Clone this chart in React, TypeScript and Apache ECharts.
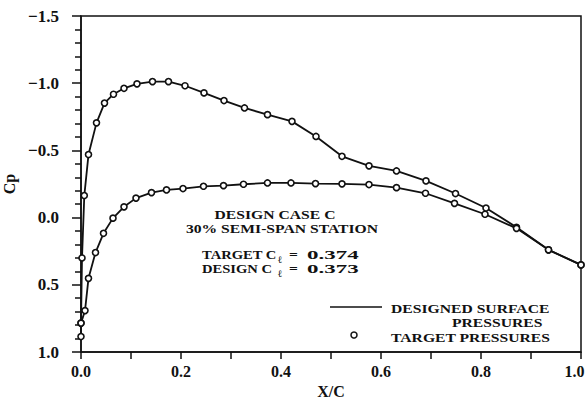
import React, { useEffect, useRef } from "react";
import * as echarts from "echarts";

const upperX = [0.0, 0.0, 0.002, 0.0066, 0.015, 0.031, 0.047, 0.065, 0.086, 0.112, 0.143, 0.175, 0.208, 0.246, 0.286, 0.327, 0.373, 0.422, 0.47, 0.522, 0.576, 0.631, 0.69, 0.749, 0.81, 0.871, 0.935, 1.0];
const upperCp = [0.885, 0.785, 0.3, -0.164, -0.469, -0.705, -0.852, -0.918, -0.962, -0.995, -1.012, -1.012, -0.981, -0.928, -0.871, -0.816, -0.766, -0.716, -0.604, -0.456, -0.385, -0.347, -0.273, -0.179, -0.071, 0.072, 0.24, 0.352];
const lowerX = [0.0, 0.008, 0.015, 0.029, 0.045, 0.064, 0.086, 0.11, 0.141, 0.171, 0.204, 0.245, 0.285, 0.325, 0.373, 0.42, 0.469, 0.522, 0.576, 0.631, 0.689, 0.747, 0.808, 0.871, 0.935, 1.0];
const lowerCp = [0.785, 0.692, 0.452, 0.26, 0.117, 0.004, -0.08, -0.145, -0.186, -0.206, -0.216, -0.233, -0.238, -0.248, -0.258, -0.258, -0.253, -0.251, -0.246, -0.223, -0.181, -0.106, -0.025, 0.08, 0.24, 0.352];

const annotationLines = ["DESIGN CASE C", "30% SEMI-SPAN STATION"];
const targetCl = "0.374";
const designCl = "0.373";

const FONT = "'Liberation Serif', serif";

export default function App() {
  const ref = useRef<HTMLDivElement>(null);
  useEffect(() => {
    if (!ref.current) return;
    const chart = echarts.init(ref.current, undefined, { renderer: "svg" });
    const markerStyle = { color: "#fff", borderColor: "#111", borderWidth: 1.6 };
    const lineStyle = { color: "#111", width: 1.8 };
    const SX = 1.16;
    const textStyle = { fill: "#111", fontFamily: FONT, fontWeight: "bold", fontSize: 13.5 };
    const subStyle = { fill: "#111", fontFamily: FONT, fontWeight: "bold", fontSize: 10 };
    const fmt = (v: number) => (v < 0 ? "\u2212" + Math.abs(v).toFixed(1) : v.toFixed(1));
    const t = (x: number, y: number, text: string, extra: any = {}, sx = SX) => ({
      type: "text", x, y, scaleX: sx, style: { ...textStyle, text, verticalAlign: "middle", ...extra },
    });
    chart.setOption({
      animation: false,
      backgroundColor: "#fff",
      grid: {
        left: 81, right: 7, top: 16, bottom: 48, containLabel: false, outerBoundsMode: "none",
        show: true, borderColor: "#111", borderWidth: 1.5, backgroundColor: "transparent",
      },
      xAxis: {
        type: "value",
        min: 0,
        max: 1,
        interval: 0.2,
        name: "X/C",
        nameLocation: "middle",
        nameGap: 31,
        nameTextStyle: { color: "#111", fontFamily: FONT, fontWeight: "bold", fontSize: 16 },
        axisLine: { show: true, onZero: false, lineStyle: { color: "#111", width: 1.5 } },
        axisTick: { show: true, inside: false, length: 7, lineStyle: { color: "#111", width: 1.5 } },
        minorTick: { show: true, splitNumber: 2, length: 7, lineStyle: { color: "#111", width: 1.5 } },
        splitLine: { show: false },
        axisLabel: {
          color: "#111", fontFamily: FONT, fontWeight: "bold", fontSize: 16, margin: 11,
          formatter: (v: number) => (v >= 1 ? "{m|" + fmt(v) + "}" : fmt(v)),
          rich: { m: { color: "#111", fontFamily: FONT, fontWeight: "bold", fontSize: 16, padding: [0, 13, 0, 0] } },
        },
      },
      yAxis: {
        type: "value",
        min: -1.5,
        max: 1.0,
        interval: 0.5,
        inverse: true,
        name: "Cp",
        nameLocation: "middle",
        nameRotate: 90,
        nameGap: 60,
        nameTextStyle: { color: "#111", fontFamily: FONT, fontWeight: "bold", fontSize: 16 },
        axisLine: { show: true, onZero: false, lineStyle: { color: "#111", width: 1.5 } },
        axisTick: { show: true, inside: false, length: 9, lineStyle: { color: "#111", width: 1.5 } },
        minorTick: { show: true, splitNumber: 5, length: 6, lineStyle: { color: "#111", width: 1.5 } },
        splitLine: { show: false },
        axisLabel: { color: "#111", fontFamily: FONT, fontWeight: "bold", fontSize: 17, margin: 22, formatter: fmt },
      },
      series: [
        {
          type: "line",
          name: "Upper",
          data: upperX.map((x, i) => [x, upperCp[i]]),
          symbol: "circle",
          symbolSize: 6,
          itemStyle: markerStyle,
          lineStyle,
          z: 3,
        },
        {
          type: "line",
          name: "Lower",
          data: lowerX.map((x, i) => [x, lowerCp[i]]),
          symbol: "circle",
          symbolSize: 6,
          itemStyle: markerStyle,
          lineStyle,
          z: 3,
        },
      ],
      graphic: [
        t(275, 214, annotationLines[0], { align: "center" }),
        t(282, 228, annotationLines[1], { align: "center" }),
        t(202, 254, "TARGET C", {}, 1.08),
        { type: "text", x: 278, y: 259, style: { ...subStyle, text: "ℓ", verticalAlign: "middle" } },
        t(289, 254, "="),
        t(307, 254, targetCl, {}, 1.7),
        t(202, 268, "DESIGN C", {}, 1.08),
        { type: "text", x: 278, y: 273, style: { ...subStyle, text: "ℓ", verticalAlign: "middle" } },
        t(289, 268, "="),
        t(307, 268, designCl, {}, 1.7),
        { type: "line", shape: { x1: 330, y1: 307, x2: 382, y2: 307 }, style: { stroke: "#111", lineWidth: 1.5 } },
        t(391, 308, "DESIGNED SURFACE"),
        t(452, 322, "PRESSURES"),
        { type: "circle", shape: { cx: 354, cy: 335, r: 3 }, style: { fill: "#fff", stroke: "#111", lineWidth: 1.5 } },
        t(391, 337, "TARGET PRESSURES"),
      ],
    });
    return () => chart.dispose();
  }, []);
  return <div ref={ref} style={{ width: 588, height: 400, position: "absolute", left: 0, top: 0 }} />;
}
